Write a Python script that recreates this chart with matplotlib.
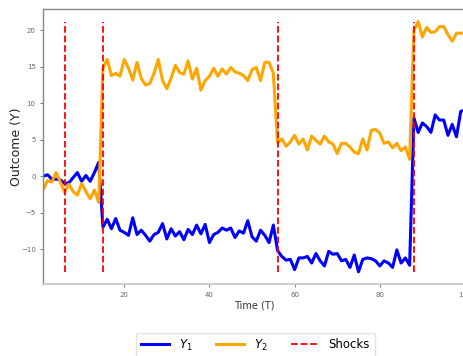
import matplotlib
matplotlib.use('Agg')
import matplotlib.pyplot as plt

# time index and the two outcome series
t = list(range(1, 101))
y1 = [0.0, 0.2, -0.4, -0.4, -0.5, -1.0, -0.9, -0.2, 0.5, -0.7,
      0.1, -0.7, 0.5, 1.9, -7.0, -5.9, -7.2, -5.8, -7.4, -7.7,
      -8.1, -5.7, -8.0, -7.4, -8.1, -8.9, -8.0, -7.7, -6.5, -8.6,
      -7.2, -8.2, -7.6, -8.7, -7.3, -8.0, -6.7, -7.9, -6.6, -9.1,
      -8.0, -7.7, -7.1, -7.4, -7.1, -8.4, -7.5, -7.8, -6.1, -8.3,
      -8.9, -7.4, -8.1, -9.1, -6.7, -10.2, -11.0, -11.5, -11.4, -12.8,
      -11.2, -11.2, -11.0, -11.9, -10.6, -11.6, -12.3, -10.3, -10.7, -10.6,
      -11.6, -11.4, -12.5, -10.8, -13.1, -11.4, -11.2, -11.3, -11.6, -12.3,
      -11.6, -11.9, -12.5, -10.1, -11.9, -11.2, -12.2, 8.0, 6.0, 7.3,
      6.8, 6.0, 8.4, 7.7, 7.7, 5.6, 7.1, 5.4, 8.9, 9.0]
y2 = [-1.8, -0.6, -0.8, 0.5, -0.8, -2.2, -1.1, -2.1, -2.6, -1.0,
      -2.1, -3.1, -1.9, -3.6, 14.8, 16.0, 13.8, 14.1, 13.7, 16.0,
      14.8, 13.2, 15.6, 13.4, 12.5, 12.7, 14.1, 16.0, 13.1, 12.0,
      13.4, 15.2, 14.2, 14.0, 15.8, 13.3, 14.8, 11.8, 13.1, 13.7,
      14.8, 13.7, 14.7, 14.0, 14.9, 14.3, 14.1, 13.8, 13.1, 14.6,
      14.9, 13.1, 15.6, 15.6, 14.1, 4.6, 5.1, 4.1, 4.7, 5.6,
      4.4, 5.1, 3.6, 5.5, 4.9, 4.4, 5.5, 4.7, 4.4, 3.1,
      4.5, 4.5, 4.0, 3.3, 3.1, 5.1, 3.6, 6.3, 6.4, 5.9,
      4.5, 4.7, 3.9, 4.5, 3.5, 4.0, 2.3, 20.0, 21.2, 19.1,
      20.4, 19.7, 19.8, 20.5, 20.5, 19.4, 18.5, 19.6, 19.6, 19.6]
shocks = [6, 15, 56, 88]

fig = plt.figure(figsize=(4.64, 3.56), dpi=100)
ax = fig.add_axes([43.3 / 464, 71.7 / 356, 421.7 / 464, 275.3 / 356])

ax.plot(t, y1, color='blue', lw=2.2, label='$Y_1$')
ax.plot(t, y2, color='orange', lw=2.2, label='$Y_2$')
lo = min(min(y1), min(y2))
hi = max(max(y1), max(y2))
ax.vlines(shocks, lo, hi, colors='red', linestyles='dashed', lw=1.3, label='Shocks')

ax.set_xlim(1, 100)
ax.set_xticks([20, 40, 60, 80, 100])
ax.set_yticks([-10, -5, 0, 5, 10, 15, 20])
ax.tick_params(labelsize=5, colors='#666666', length=2, width=0.6)
for side in ['left', 'bottom', 'top', 'right']:
    ax.spines[side].set_color('#888888')
    ax.spines[side].set_linewidth(1.0)
ax.spines['bottom'].set_color('#cccccc')
ax.spines['bottom'].set_linewidth(1.5)

ax.set_xlabel('Time (T)', fontsize=7, color='#333333', labelpad=2)
ax.set_ylabel('Outcome (Y)', fontsize=9, color='#222222', labelpad=-1.5)

fig.legend(loc='upper center', bbox_to_anchor=(255.5 / 464, 23.3 / 356),
           ncol=3, fontsize=8.5, frameon=True, edgecolor='#dddddd',
           borderaxespad=0, columnspacing=2.0, handlelength=2.4)

fig.savefig('out.png', dpi=100)
